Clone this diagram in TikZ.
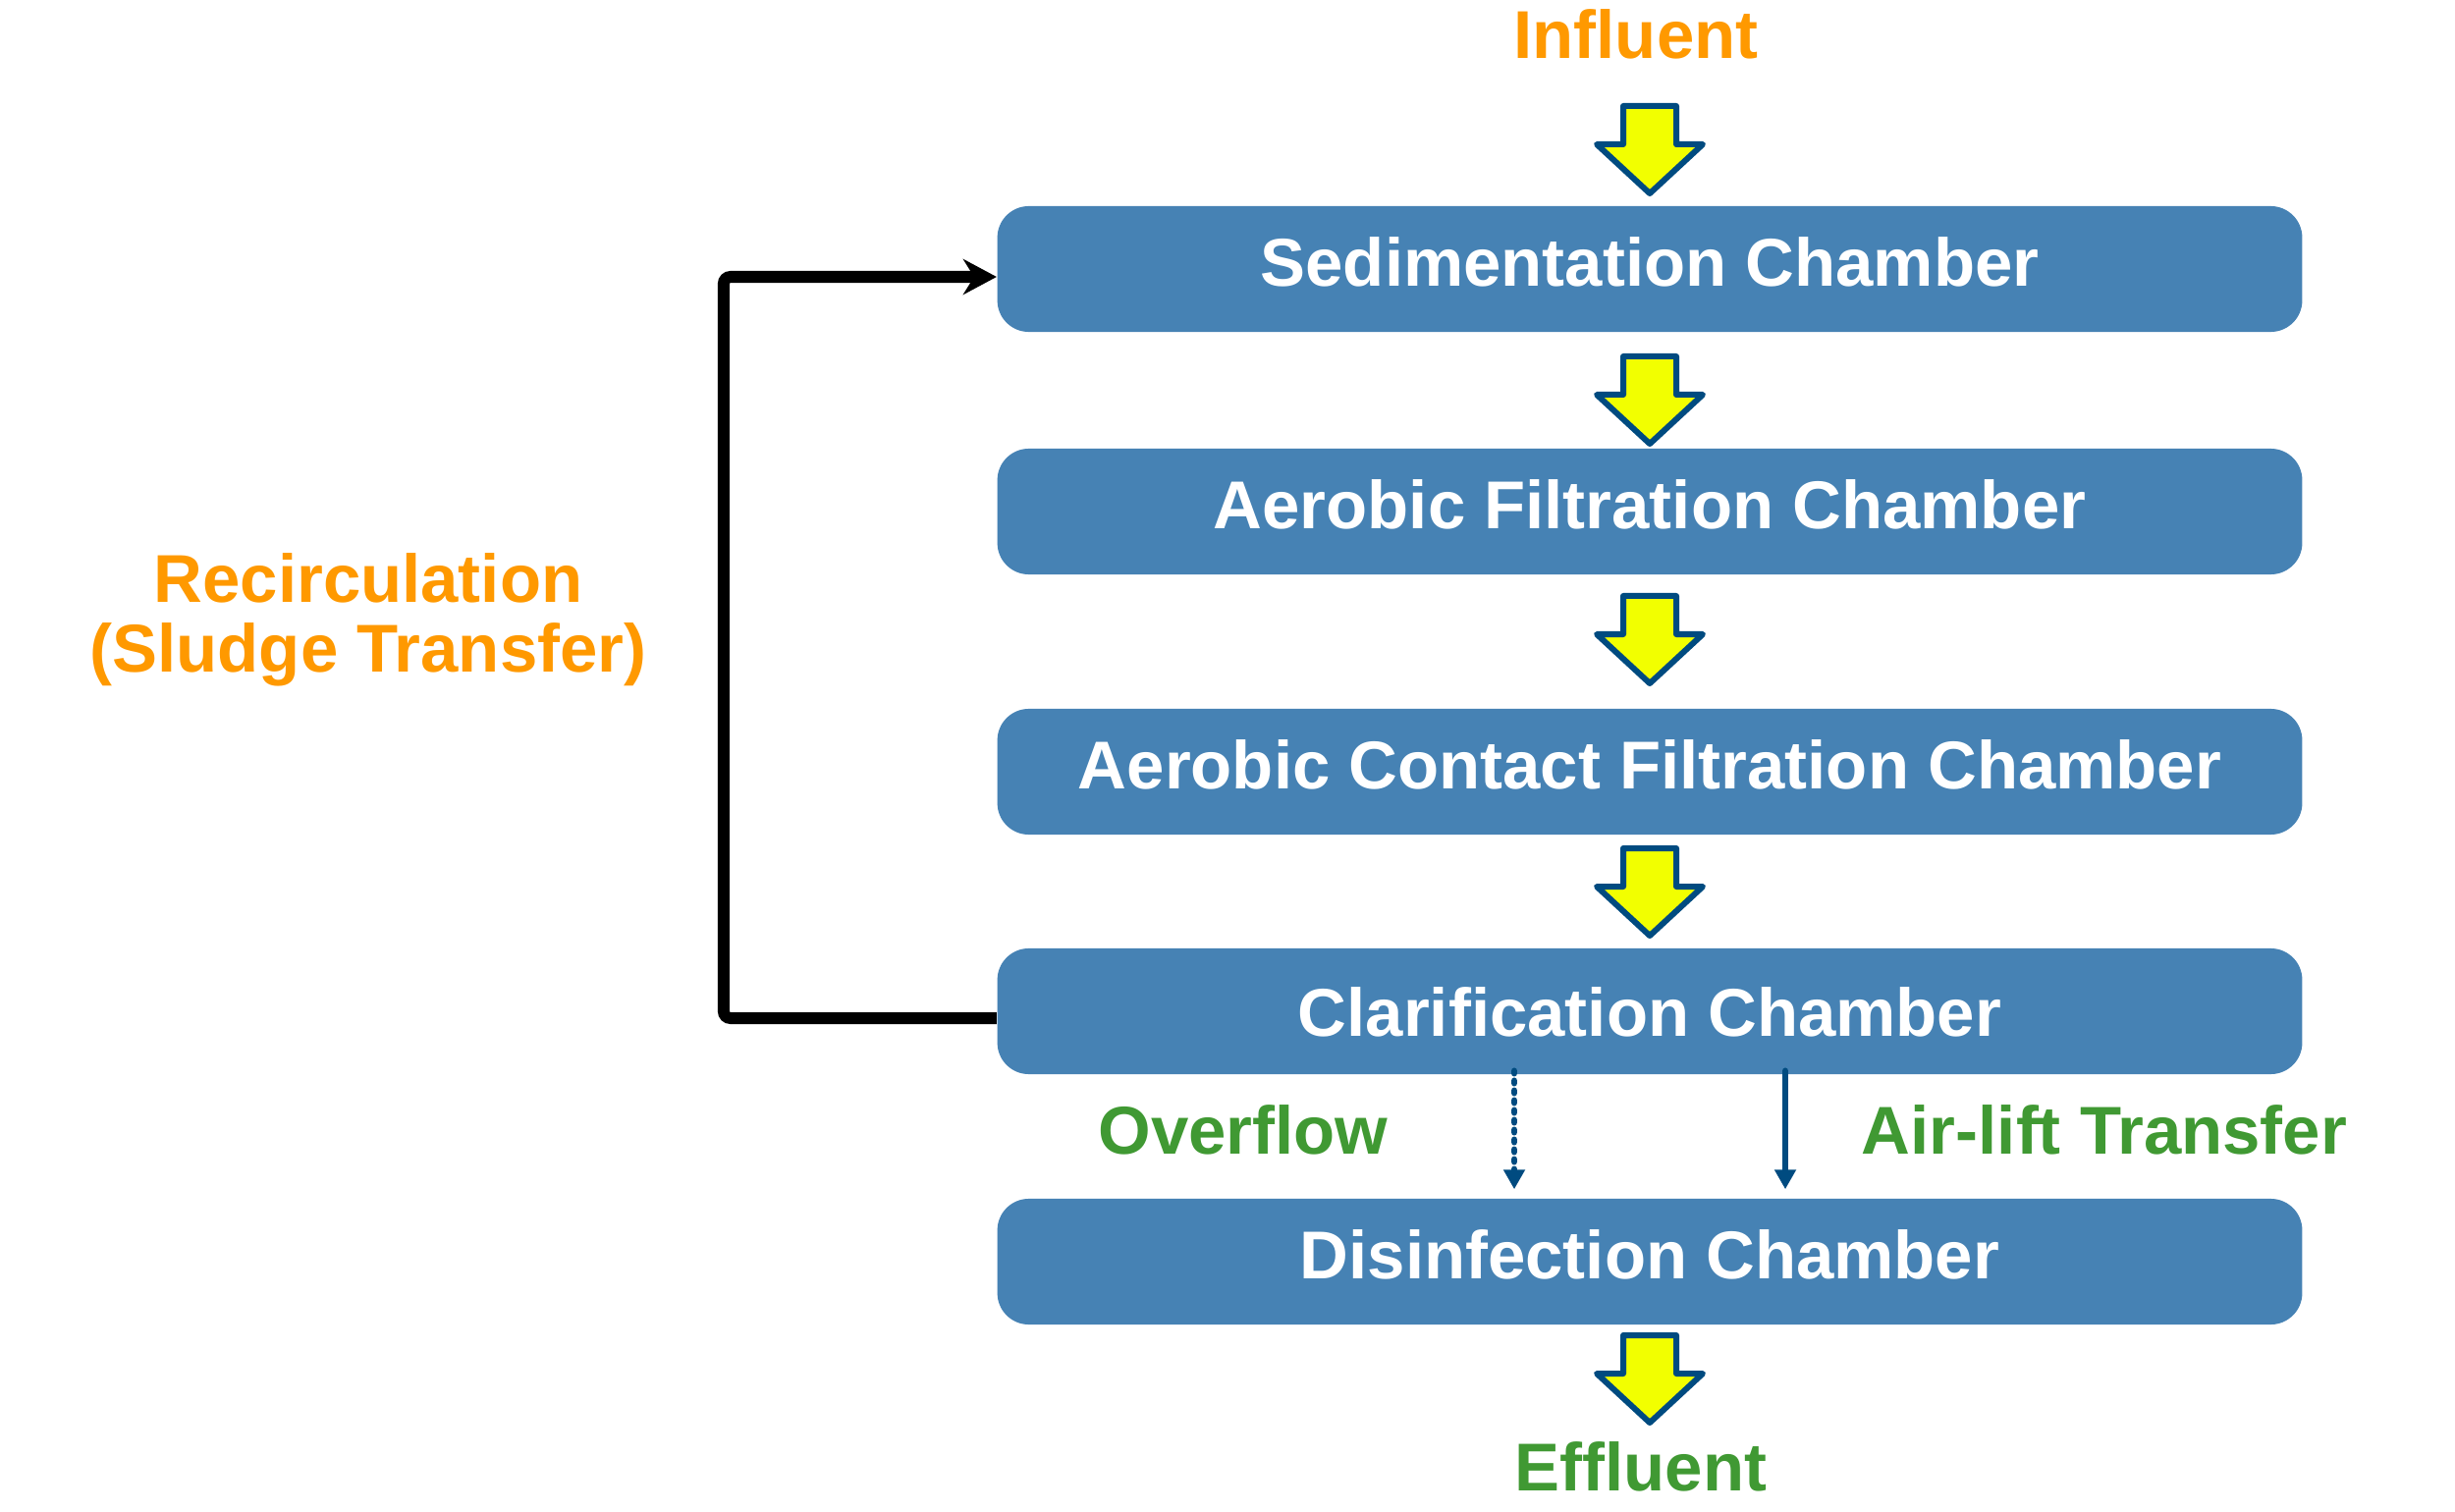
\documentclass[tikz,border=0pt]{standalone}
\usepackage{fontspec}
\setmainfont{Liberation Sans}
\usepackage{tikz}
\usetikzlibrary{arrows.meta}

\definecolor{boxblue}{RGB}{70,130,180}
\definecolor{edgeblue}{RGB}{0,75,128}
\definecolor{arrowyellow}{RGB}{242,255,0}
\definecolor{labelorange}{RGB}{255,153,0}
\definecolor{labelgreen}{RGB}{64,153,51}

% block arrow between chambers: #1 = centre x, #2 = top y
\newcommand{\flowarrow}[2]{%
  \draw[blockarrow] (#1,#2) ++(-27,0) -- ++(54,0) -- ++(0,39) -- ++(27,0)
    -- ++(-54,50) -- ++(-54,-50) -- ++(27,0) -- cycle;}

\begin{document}
\begin{tikzpicture}[x=0.01cm, y=-0.01cm,
    every node/.style={font=\fontsize{19.6pt}{20.2pt}\selectfont\bfseries},
    chamber/.style={fill=boxblue, text=white, rounded corners=0.32cm,
      minimum width=13.28cm, minimum height=1.28cm, inner sep=0pt,
      text height=0.5cm, text depth=0.16cm},
    blockarrow/.style={fill=arrowyellow, draw=edgeblue, line width=0.06cm, line join=round},
    orangelabel/.style={text=labelorange, align=center},
    greenlabel/.style={text=labelgreen},
    recirc/.style={line width=0.12cm, rounded corners=2pt, -{Stealth[length=0.34cm,width=0.36cm]}},
    thinflow/.style={draw=edgeblue, line width=0.065cm, line cap=round,
      -{Triangle[length=0.2cm,width=0.21cm]}}]
  \useasboundingbox (0,0) rectangle (2500,1540);
  % chambers
  \node[chamber] (sed) at (1680,274) {Sedimentation Chamber};
  \node[chamber] (aer) at (1680,521) {Aerobic Filtration Chamber};
  \node[chamber] (con) at (1680,786) {Aerobic Contact Filtration Chamber};
  \node[chamber, text depth=0cm] (clar) at (1680,1030) {Clarification Chamber};
  \node[chamber] (dis) at (1680,1285) {Disinfection Chamber};
  % in / out
  \node[orangelabel] (inf) at (1666,35) {Influent};
  \node[greenlabel] (eff) at (1671,1494) {Effluent};
  \flowarrow{1680}{108}
  \flowarrow{1680}{363}
  \flowarrow{1680}{607}
  \flowarrow{1680}{864}
  \flowarrow{1680}{1360}
  % recirculation loop
  \node[orangelabel] (rec) at (375,631) {Recirculation\\(Sludge Transfer)};
  \draw[recirc] ([yshift=-0.07cm]clar.west) -- ++(-278,0) |- ([yshift=-0.08cm]sed.west);
  % clarification -> disinfection
  \coordinate (ovf) at (1542,0);
  \coordinate (air) at (1818,0);
  \draw[thinflow, dash pattern=on 0.025cm off 0.075cm] ([yshift=0.04cm]clar.south -| ovf) -- ([yshift=0.09cm]dis.north -| ovf);
  \draw[thinflow] ([yshift=0.04cm]clar.south -| air) -- ([yshift=0.09cm]dis.north -| air);
  \node[greenlabel] (ovflbl) at (1266,1151) {Overflow};
  \node[greenlabel] (airlbl) at (2143,1151) {Air-lift Transfer};
\end{tikzpicture}
\end{document}
